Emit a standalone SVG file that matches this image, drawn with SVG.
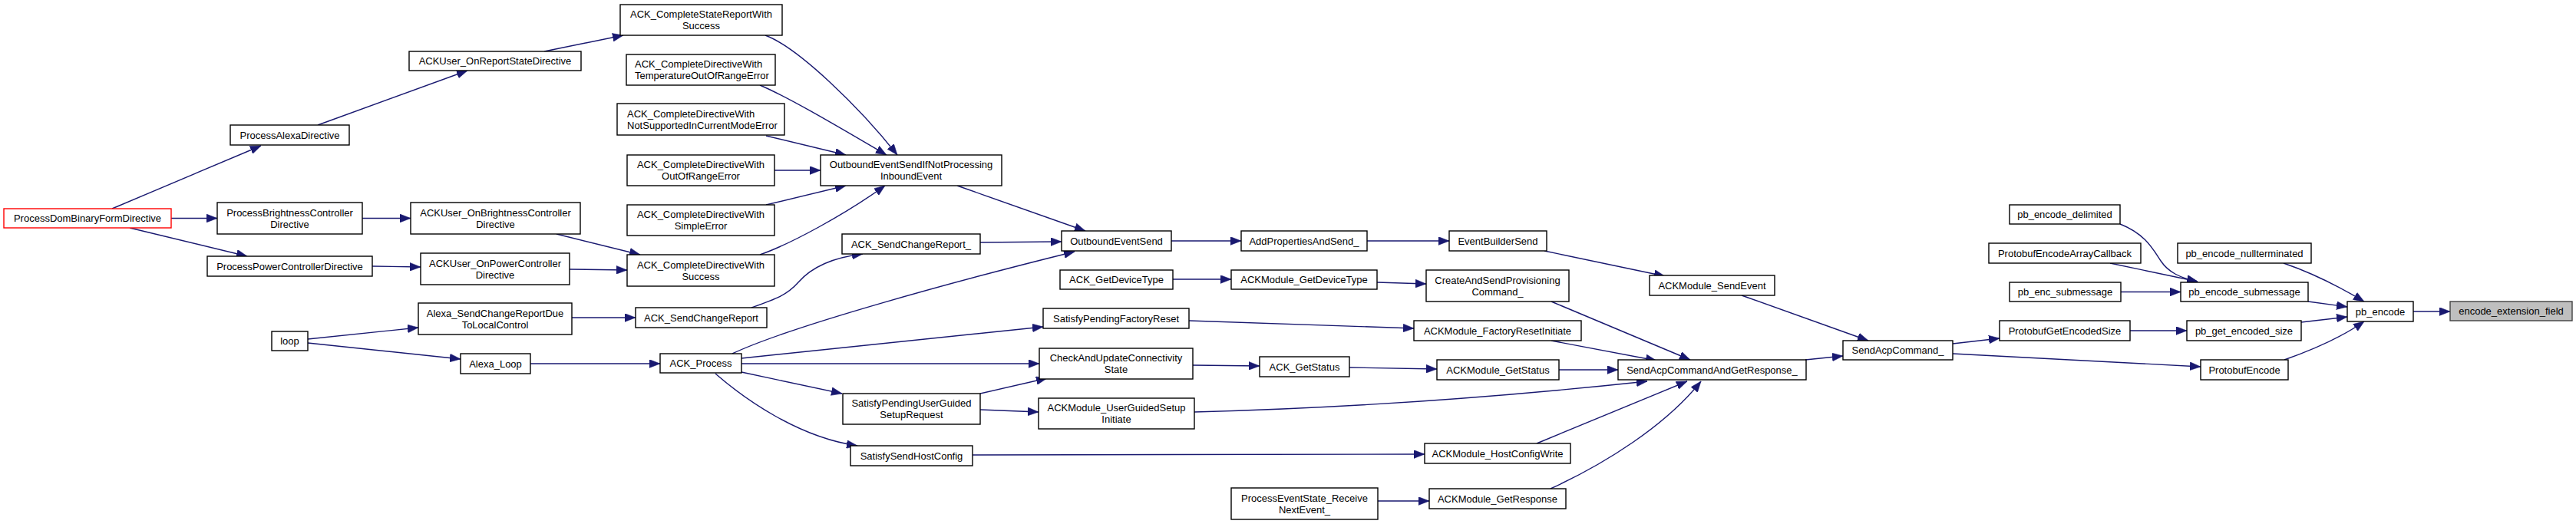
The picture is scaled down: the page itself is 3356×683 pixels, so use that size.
<svg xmlns="http://www.w3.org/2000/svg" width="3356" height="683" viewBox="0 0 3356 683">
<style>
.n rect{fill:#ffffff;stroke:#000000;stroke-width:1.4}
.n text{font-family:"Liberation Sans",Arial,Helvetica,sans-serif;font-size:13px;fill:#000000;text-anchor:middle}
.n text.l{text-anchor:start}
.root rect{fill:#bfbfbf;stroke:#404040}
.start rect{stroke:#ff0000}
.e path{fill:none;stroke:#191970;stroke-width:1.4;marker-end:url(#ah)}
</style>
<defs>
<marker id="ah" markerUnits="userSpaceOnUse" markerWidth="14" markerHeight="11" viewBox="0 0 13 10" refX="13" refY="5" orient="auto">
<path d="M0,0 L13,5 L0,10 z" fill="#191970" stroke="#191970" stroke-width="0.5"/>
</marker>
</defs>
<rect width="3356" height="683" fill="#ffffff"/>
<g id="edges" class="e">
<path d="M146,272 L340,190"/>
<path d="M223,284.5 L283,284.5"/>
<path d="M169,297 L322,334"/>
<path d="M414,163 L609,92"/>
<path d="M472,284.5 L535,284.5"/>
<path d="M485,347 L548,348"/>
<path d="M709,67 L812,46"/>
<path d="M725,305 L834,332"/>
<path d="M742,351 L817,352"/>
<path d="M745,414 L828,414"/>
<path d="M401,442 L545,427"/>
<path d="M401,447 L600,468"/>
<path d="M691,474 L860,474"/>
<path d="M997,46 C1040,62 1120,140 1169,202"/>
<path d="M990,111 C1030,128 1100,170 1155,202"/>
<path d="M998,177 L1102,202"/>
<path d="M1009,222 L1069,222"/>
<path d="M998,267 L1102,242"/>
<path d="M990,332 C1030,318 1100,280 1153,242"/>
<path d="M1247,242 L1414,301"/>
<path d="M1277,316 L1383,315"/>
<path d="M954,461 C1030,425 1250,365 1400,328"/>
<path d="M979,401 C1010,390 1025,385 1040,368 C1060,345 1090,335 1124,331"/>
<path d="M966,467 L1359,426"/>
<path d="M966,474 L1354,474"/>
<path d="M966,485 L1097,513"/>
<path d="M932,487 C970,520 1040,570 1117,581"/>
<path d="M1277,513 L1364,493"/>
<path d="M1277,534 L1353,537"/>
<path d="M1267,593 L1856,592"/>
<path d="M1528,364 L1604,364"/>
<path d="M1794,368 L1858,370"/>
<path d="M1549,418 L1842,428"/>
<path d="M1554,476 L1641,477"/>
<path d="M1758,479 L1872,481"/>
<path d="M1556,537 C1750,532 1950,518 2146,497"/>
<path d="M1795,653 L1862,653"/>
<path d="M2002,578 L2198,497"/>
<path d="M2020,637 C2090,605 2170,555 2216,497"/>
<path d="M2031,482 L2108,482"/>
<path d="M2021,444 L2158,470"/>
<path d="M2021,393 L2202,469"/>
<path d="M2012,327 L2169,360"/>
<path d="M1781,314 L1888,314"/>
<path d="M1526,314 L1617,314"/>
<path d="M2269,385 L2434,444"/>
<path d="M2352,469 L2401,464"/>
<path d="M2544,448 L2605,441"/>
<path d="M2544,461 L2867,478"/>
<path d="M2762,292 C2795,305 2805,325 2815,340 C2825,355 2840,362 2863,367"/>
<path d="M2749,343 L2863,367"/>
<path d="M2763,380.5 L2841,380.5"/>
<path d="M2775,431 L2849,431"/>
<path d="M2975,343 C3010,355 3050,375 3080,393"/>
<path d="M3007,393 L3058,400"/>
<path d="M2998,420 L3058,413"/>
<path d="M2976,469 C3010,457 3050,440 3080,419"/>
<path d="M3144,406 L3192,406"/>
</g>
<g id="ProcessDomBinaryFormDirective" class="n start"><rect x="5" y="272" width="218" height="25"/><text x="114" y="289.1">ProcessDomBinaryFormDirective</text></g>
<g id="ProcessAlexaDirective" class="n"><rect x="300" y="163" width="155" height="26"/><text x="377.5" y="180.6">ProcessAlexaDirective</text></g>
<g id="ProcessBrightnessControllerDirective" class="n"><rect x="283" y="264" width="189" height="41"/><text x="377.5" y="281.6">ProcessBrightnessController</text><text x="377.5" y="296.6">Directive</text></g>
<g id="ProcessPowerControllerDirective" class="n"><rect x="270" y="334" width="215" height="26"/><text x="377.5" y="351.6">ProcessPowerControllerDirective</text></g>
<g id="ACKUser_OnReportStateDirective" class="n"><rect x="533" y="67" width="224" height="25"/><text x="645" y="84.1">ACKUser_OnReportStateDirective</text></g>
<g id="ACKUser_OnBrightnessControllerDirective" class="n"><rect x="535" y="264" width="221" height="41"/><text x="645.5" y="281.6">ACKUser_OnBrightnessController</text><text x="645.5" y="296.6">Directive</text></g>
<g id="ACKUser_OnPowerControllerDirective" class="n"><rect x="548" y="330" width="194" height="41"/><text x="645" y="347.6">ACKUser_OnPowerController</text><text x="645" y="362.6">Directive</text></g>
<g id="Alexa_SendChangeReportDueToLocalControl" class="n"><rect x="545" y="395" width="200" height="41"/><text x="645" y="412.6">Alexa_SendChangeReportDue</text><text x="645" y="427.6">ToLocalControl</text></g>
<g id="loop" class="n"><rect x="354" y="432" width="47" height="25"/><text x="377.5" y="449.1">loop</text></g>
<g id="Alexa_Loop" class="n"><rect x="600" y="461" width="91" height="26"/><text x="645.5" y="478.6">Alexa_Loop</text></g>
<g id="ACK_CompleteStateReportWithSuccess" class="n"><rect x="808" y="6" width="211" height="40"/><text x="913.5" y="23.1">ACK_CompleteStateReportWith</text><text x="913.5" y="38.1">Success</text></g>
<g id="ACK_CompleteDirectiveWithTemperatureOutOfRangeError" class="n"><rect x="816" y="71" width="194" height="40"/><text class="l" x="827" y="88.1">ACK_CompleteDirectiveWith</text><text class="l" x="827" y="103.1">TemperatureOutOfRangeError</text></g>
<g id="ACK_CompleteDirectiveWithNotSupportedInCurrentModeError" class="n"><rect x="804" y="135" width="218" height="41"/><text class="l" x="817" y="152.6">ACK_CompleteDirectiveWith</text><text class="l" x="817" y="167.6">NotSupportedInCurrentModeError</text></g>
<g id="ACK_CompleteDirectiveWithOutOfRangeError" class="n"><rect x="817" y="202" width="192" height="40"/><text x="913" y="219.1">ACK_CompleteDirectiveWith</text><text x="913" y="234.1">OutOfRangeError</text></g>
<g id="ACK_CompleteDirectiveWithSimpleError" class="n"><rect x="817" y="267" width="192" height="40"/><text x="913" y="284.1">ACK_CompleteDirectiveWith</text><text x="913" y="299.1">SimpleError</text></g>
<g id="ACK_CompleteDirectiveWithSuccess" class="n"><rect x="817" y="332" width="192" height="41"/><text x="913" y="349.6">ACK_CompleteDirectiveWith</text><text x="913" y="364.6">Success</text></g>
<g id="ACK_SendChangeReport" class="n"><rect x="828" y="401" width="171" height="26"/><text x="913.5" y="418.6">ACK_SendChangeReport</text></g>
<g id="ACK_Process" class="n"><rect x="860" y="461" width="106" height="25"/><text x="913" y="478.1">ACK_Process</text></g>
<g id="OutboundEventSendIfNotProcessingInboundEvent" class="n"><rect x="1069" y="202" width="236" height="40"/><text x="1187" y="219.1">OutboundEventSendIfNotProcessing</text><text x="1187" y="234.1">InboundEvent</text></g>
<g id="ACK_SendChangeReport_" class="n"><rect x="1097" y="305" width="180" height="26"/><text x="1187" y="322.6">ACK_SendChangeReport_</text></g>
<g id="SatisfyPendingUserGuidedSetupRequest" class="n"><rect x="1098" y="513" width="179" height="40"/><text x="1187.5" y="530.1">SatisfyPendingUserGuided</text><text x="1187.5" y="545.1">SetupRequest</text></g>
<g id="SatisfySendHostConfig" class="n"><rect x="1108" y="581" width="159" height="26"/><text x="1187.5" y="598.6">SatisfySendHostConfig</text></g>
<g id="OutboundEventSend" class="n"><rect x="1383" y="301" width="143" height="26"/><text x="1454.5" y="318.6">OutboundEventSend</text></g>
<g id="ACK_GetDeviceType" class="n"><rect x="1381" y="352" width="147" height="25"/><text x="1454.5" y="369.1">ACK_GetDeviceType</text></g>
<g id="SatisfyPendingFactoryReset" class="n"><rect x="1359" y="402" width="190" height="26"/><text x="1454" y="419.6">SatisfyPendingFactoryReset</text></g>
<g id="CheckAndUpdateConnectivityState" class="n"><rect x="1354" y="454" width="200" height="40"/><text x="1454" y="471.1">CheckAndUpdateConnectivity</text><text x="1454" y="486.1">State</text></g>
<g id="ACKModule_UserGuidedSetupInitiate" class="n"><rect x="1353" y="519" width="203" height="40"/><text x="1454.5" y="536.1">ACKModule_UserGuidedSetup</text><text x="1454.5" y="551.1">Initiate</text></g>
<g id="AddPropertiesAndSend_" class="n"><rect x="1617" y="301" width="164" height="26"/><text x="1699" y="318.6">AddPropertiesAndSend_</text></g>
<g id="ACKModule_GetDeviceType" class="n"><rect x="1604" y="352" width="190" height="25"/><text x="1699" y="369.1">ACKModule_GetDeviceType</text></g>
<g id="ACK_GetStatus" class="n"><rect x="1641" y="465" width="117" height="26"/><text x="1699.5" y="482.6">ACK_GetStatus</text></g>
<g id="ProcessEventState_ReceiveNextEvent_" class="n"><rect x="1604" y="636" width="191" height="41"/><text x="1699.5" y="653.6">ProcessEventState_Receive</text><text x="1699.5" y="668.6">NextEvent_</text></g>
<g id="EventBuilderSend" class="n"><rect x="1888" y="301" width="127" height="26"/><text x="1951.5" y="318.6">EventBuilderSend</text></g>
<g id="CreateAndSendProvisioningCommand_" class="n"><rect x="1858" y="352" width="186" height="41"/><text x="1951" y="369.6">CreateAndSendProvisioning</text><text x="1951" y="384.6">Command_</text></g>
<g id="ACKModule_FactoryResetInitiate" class="n"><rect x="1842" y="418" width="218" height="26"/><text x="1951" y="435.6">ACKModule_FactoryResetInitiate</text></g>
<g id="ACKModule_GetStatus" class="n"><rect x="1872" y="469" width="159" height="26"/><text x="1951.5" y="486.6">ACKModule_GetStatus</text></g>
<g id="ACKModule_HostConfigWrite" class="n"><rect x="1856" y="578" width="190" height="26"/><text x="1951" y="595.6">ACKModule_HostConfigWrite</text></g>
<g id="ACKModule_GetResponse" class="n"><rect x="1862" y="637" width="178" height="26"/><text x="1951" y="654.6">ACKModule_GetResponse</text></g>
<g id="ACKModule_SendEvent" class="n"><rect x="2149" y="359" width="163" height="26"/><text x="2230.5" y="376.6">ACKModule_SendEvent</text></g>
<g id="SendAcpCommandAndGetResponse_" class="n"><rect x="2108" y="469" width="245" height="26"/><text x="2230.5" y="486.6">SendAcpCommandAndGetResponse_</text></g>
<g id="SendAcpCommand_" class="n"><rect x="2401" y="444" width="143" height="25"/><text x="2472.5" y="461.1">SendAcpCommand_</text></g>
<g id="pb_encode_delimited" class="n"><rect x="2618" y="267" width="144" height="25"/><text x="2690" y="284.1">pb_encode_delimited</text></g>
<g id="ProtobufEncodeArrayCallback" class="n"><rect x="2591" y="317" width="198" height="26"/><text x="2690" y="334.6">ProtobufEncodeArrayCallback</text></g>
<g id="pb_enc_submessage" class="n"><rect x="2618" y="368" width="145" height="25"/><text x="2690.5" y="385.1">pb_enc_submessage</text></g>
<g id="ProtobufGetEncodedSize" class="n"><rect x="2605" y="418" width="170" height="26"/><text x="2690" y="435.6">ProtobufGetEncodedSize</text></g>
<g id="pb_encode_nullterminated" class="n"><rect x="2837" y="317" width="174" height="26"/><text x="2924" y="334.6">pb_encode_nullterminated</text></g>
<g id="pb_encode_submessage" class="n"><rect x="2841" y="368" width="166" height="25"/><text x="2924" y="385.1">pb_encode_submessage</text></g>
<g id="pb_get_encoded_size" class="n"><rect x="2849" y="418" width="149" height="26"/><text x="2923.5" y="435.6">pb_get_encoded_size</text></g>
<g id="ProtobufEncode" class="n"><rect x="2867" y="469" width="114" height="26"/><text x="2924" y="486.6">ProtobufEncode</text></g>
<g id="pb_encode" class="n"><rect x="3058" y="393" width="86" height="26"/><text x="3101" y="410.6">pb_encode</text></g>
<g id="encode_extension_field" class="n root"><rect x="3192" y="393" width="159" height="25"/><text x="3271.5" y="410.1">encode_extension_field</text></g>
</svg>
